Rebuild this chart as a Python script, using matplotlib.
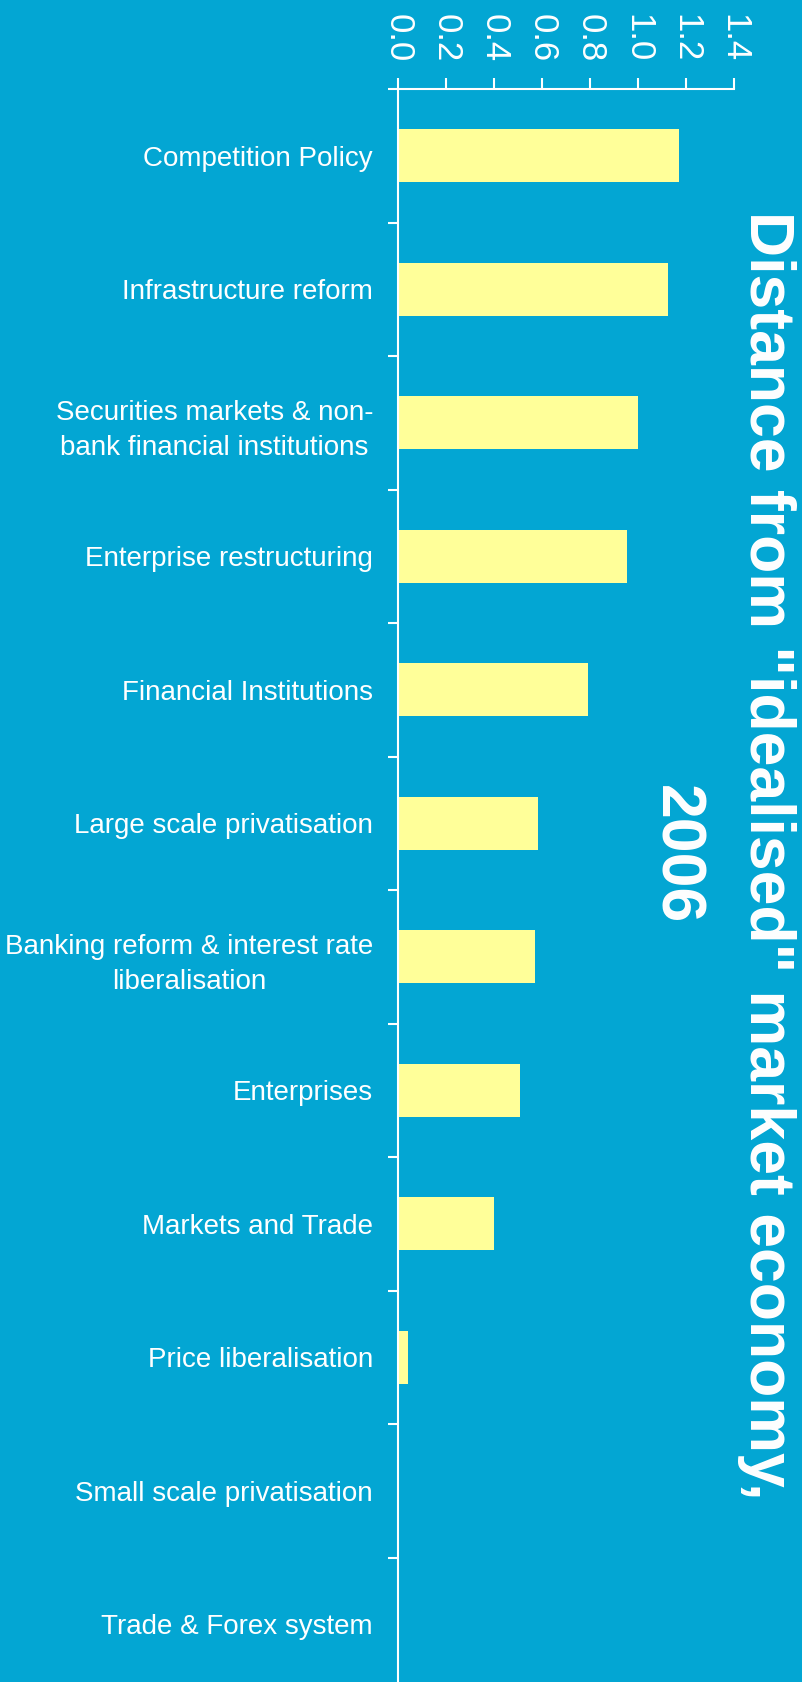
import matplotlib
matplotlib.use("Agg")
import matplotlib.pyplot as plt

categories = ["Competition Policy", "Infrastructure reform",
              "Securities markets & non-\nbank financial institutions",
              "Enterprise restructuring", "Financial Institutions",
              "Large scale privatisation",
              "Banking reform & interest rate\nliberalisation",
              "Enterprises", "Markets and Trade", "Price liberalisation",
              "Small scale privatisation", "Trade & Forex system"]
values = [1.17, 1.125, 1.0, 0.955, 0.79, 0.585, 0.57, 0.51, 0.40, 0.043, 0.0, 0.0]
xticks = [0.0, 0.2, 0.4, 0.6, 0.8, 1.0, 1.2, 1.4]
title = 'Distance from "idealised" market economy,\n2006'

bg = "#03A6D3"
plt.rcParams['font.family'] = ['Liberation Sans', 'DejaVu Sans']

W, H = 802, 1682
fig = plt.figure(figsize=(W/100, H/100), dpi=100, facecolor=bg)
left, right_px, top_px = 398, 734, 89
ax = fig.add_axes([left/W, 0, (right_px-left)/W, (H-top_px)/H])
ax.set_facecolor(bg)

y = list(range(len(categories)))
ax.barh(y, values, height=0.40, color="#FFFF99", edgecolor='none')

ax.set_xlim(0, 1.4)
span = (H - top_px) / 133.5
ax.set_ylim(-0.5 + span, -0.5)

for s in ['right', 'bottom']:
    ax.spines[s].set_visible(False)
for s in ['top', 'left']:
    ax.spines[s].set_color('white')
    ax.spines[s].set_linewidth(1.5)

ax.xaxis.tick_top()
ax.set_xticks(xticks)
ax.set_xticklabels([f"{v:.1f}" for v in xticks], rotation=-90, fontsize=25,
                   color='white')
ax.tick_params(axis='x', direction='out', length=8, width=1.5, color='white',
               pad=11)

ax.set_yticks(y)
ax.set_yticklabels(categories, fontsize=20, color='white', ha='right',
                   multialignment='center', linespacing=1.45)
ax.tick_params(axis='y', which='major', length=0, pad=18)
ax.set_yticks([i - 0.5 for i in range(len(categories))], minor=True)
ax.tick_params(axis='y', which='minor', direction='out', length=7, width=1.5,
               color='white')

fig.text(721/W, 1 - 855/H, title, rotation=-90, ha='center', va='center',
         fontsize=45, fontweight='bold', color='white', linespacing=1.7,
         multialignment='center')

fig.savefig("out.png", dpi=100, facecolor=bg)
